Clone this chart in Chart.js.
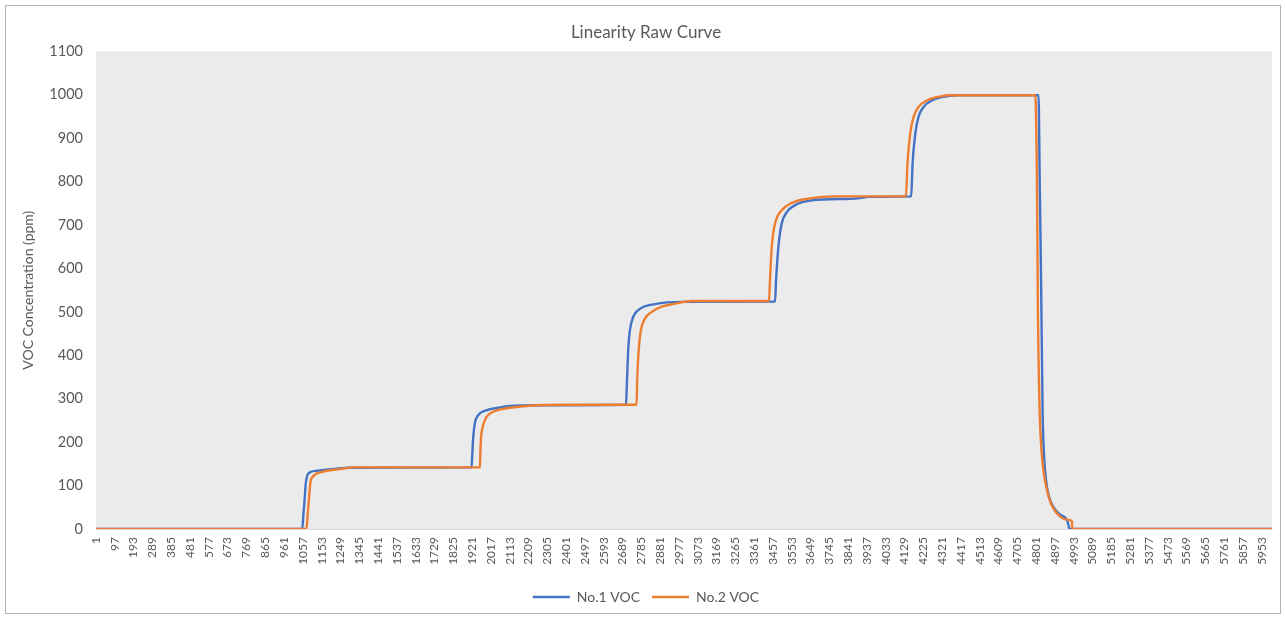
<!DOCTYPE html>
<html>
<head>
<meta charset="utf-8">
<script src="https://cdn.jsdelivr.net/npm/chart.js@4.4.1/dist/chart.umd.min.js"></script>
<style>
  body { margin: 0; background: #fff; }
  #wrap { position: relative; width: 1285px; height: 618px; }
  #frame { position: absolute; left: 5px; top: 5px; width: 1274px; height: 607px; border: 1px solid #b4b4b4; pointer-events: none; }
</style>
</head>
<body>
<div id="wrap">
  <canvas id="chart"></canvas>
  <div id="frame"></div>
</div>
<script>
// sample index -> reading at the turning points
const no1Index = [1, 1054, 1060, 1066, 1072, 1088, 1126, 1209, 1300, 1918, 1922, 1926, 1935, 1952, 1986, 2063, 2131, 2302,
    2707, 2712, 2719, 2727, 2744, 2778, 2855, 2991, 3468, 3473, 3485, 3502, 3528, 3570, 3655, 3877, 3950,
    4163, 4170, 4184, 4200, 4226, 4268, 4320, 4400, 4813, 4819, 4826, 4834, 4839, 4851, 4867, 4915, 4958, 4966, 4970, 6005];
const no1Values = [0, 0, 35, 67, 105, 129, 134, 138, 141, 142, 170, 205, 243, 262, 272, 280, 284, 285,
    286, 343, 420, 458, 489, 507, 518, 523, 524, 573, 650, 704, 730, 746, 757, 761, 765,
    766, 842, 911, 949, 972, 987, 995, 999, 999, 803, 573, 266, 189, 113, 74, 36, 21, 9, 0, 0];

const no2Index = [1, 1075, 1082, 1088, 1095, 1109, 1152, 1245, 1312, 1961, 1963, 1966, 1975, 1995, 2029, 2097, 2216, 2404,
    2761, 2764, 2773, 2783, 2804, 2838, 2889, 2957, 3042, 3437, 3442, 3451, 3468, 3502, 3553, 3638, 3775,
    4136, 4144, 4158, 4175, 4200, 4243, 4320, 4352, 4796, 4805, 4810, 4817, 4822, 4834, 4865, 4907, 4966, 4984, 4985, 6005];
const no2Values = [0, 0, 35, 67, 105, 121, 131, 138, 142, 142, 170, 205, 235, 258, 270, 278, 284, 286,
    286, 343, 420, 458, 485, 500, 512, 519, 525, 525, 573, 650, 704, 734, 751, 761, 766,
    766, 842, 911, 949, 972, 987, 997, 999, 999, 803, 497, 305, 228, 151, 74, 36, 21, 18, 0, 0];

const xTickLabels = [1, 97, 193, 289, 385, 481, 577, 673, 769, 865, 961, 1057, 1153, 1249, 1345, 1441, 1537, 1633, 1729,
    1825, 1921, 2017, 2113, 2209, 2305, 2401, 2497, 2593, 2689, 2785, 2881, 2977, 3073, 3169, 3265, 3361,
    3457, 3553, 3649, 3745, 3841, 3937, 4033, 4129, 4225, 4321, 4417, 4513, 4609, 4705, 4801, 4897, 4993,
    5089, 5185, 5281, 5377, 5473, 5569, 5665, 5761, 5857, 5953];

const textColor = '#595959';
const fontFamily = 'Lato, "Noto Sans", sans-serif';

const plotBackground = {
    id: 'plotBackground',
    beforeDraw(chart) {
        const a = chart.chartArea;
        chart.ctx.save();
        chart.ctx.fillStyle = '#ebebeb';
        chart.ctx.fillRect(a.left, a.top, a.right - a.left, a.bottom - a.top);
        chart.ctx.restore();
    }
};

new Chart(document.getElementById('chart'), {
    type: 'line',
    data: {
        datasets: [{
            label: 'No.1 VOC',
            data: no1Index.map((x, i) => ({ x: x, y: no1Values[i] })),
            borderColor: '#4472c4',
            backgroundColor: '#4472c4',
            borderWidth: 2.4,
            pointRadius: 0,
            cubicInterpolationMode: 'monotone',
            order: 1
        }, {
            label: 'No.2 VOC',
            data: no2Index.map((x, i) => ({ x: x, y: no2Values[i] })),
            borderColor: '#ed7d31',
            backgroundColor: '#ed7d31',
            borderWidth: 2.4,
            pointRadius: 0,
            cubicInterpolationMode: 'monotone',
            order: 0
        }]
    },
    options: {
        responsive: true,
        maintainAspectRatio: false,
        animation: false,
        layout: { padding: { left: 20, right: 13, top: 0, bottom: 4 } },
        plugins: {
            title: {
                display: true,
                text: 'Linearity Raw Curve',
                color: textColor,
                font: { family: fontFamily, size: 17, weight: 'normal' },
                padding: { top: 22, bottom: 9 }
            },
            legend: {
                position: 'bottom',
                labels: {
                    sort: (a, b) => a.datasetIndex - b.datasetIndex,
                    usePointStyle: true,
                    pointStyle: 'line',
                    pointStyleWidth: 37,
                    color: textColor,
                    font: { family: fontFamily, size: 14 },
                    padding: 12
                }
            },
            tooltip: { enabled: false }
        },
        scales: {
            x: {
                type: 'linear',
                min: 1,
                max: 6005,
                grid: { display: false, drawTicks: false },
                border: { display: true, color: '#d9d9d9', width: 1 },
                afterBuildTicks: scale => { scale.ticks = xTickLabels.map(v => ({ value: v })); },
                afterFit: scale => { scale.height = 49; },
                ticks: {
                    autoSkip: false,
                    minRotation: 90,
                    maxRotation: 90,
                    padding: 8,
                    color: textColor,
                    font: { family: fontFamily, size: 12 },
                    callback: v => String(v)
                }
            },
            y: {
                min: 0,
                max: 1100,
                grid: { display: false, drawTicks: false },
                border: { display: false },
                afterFit: scale => { scale.width = 76; },
                ticks: {
                    stepSize: 100,
                    padding: 13,
                    color: textColor,
                    font: { family: fontFamily, size: 14.5 },
                    callback: v => String(v)
                },
                title: {
                    display: true,
                    text: 'VOC Concentration (ppm)',
                    color: textColor,
                    font: { family: fontFamily, size: 14 },
                    padding: 0
                }
            }
        }
    },
    plugins: [plotBackground]
});
</script>
</body>
</html>
